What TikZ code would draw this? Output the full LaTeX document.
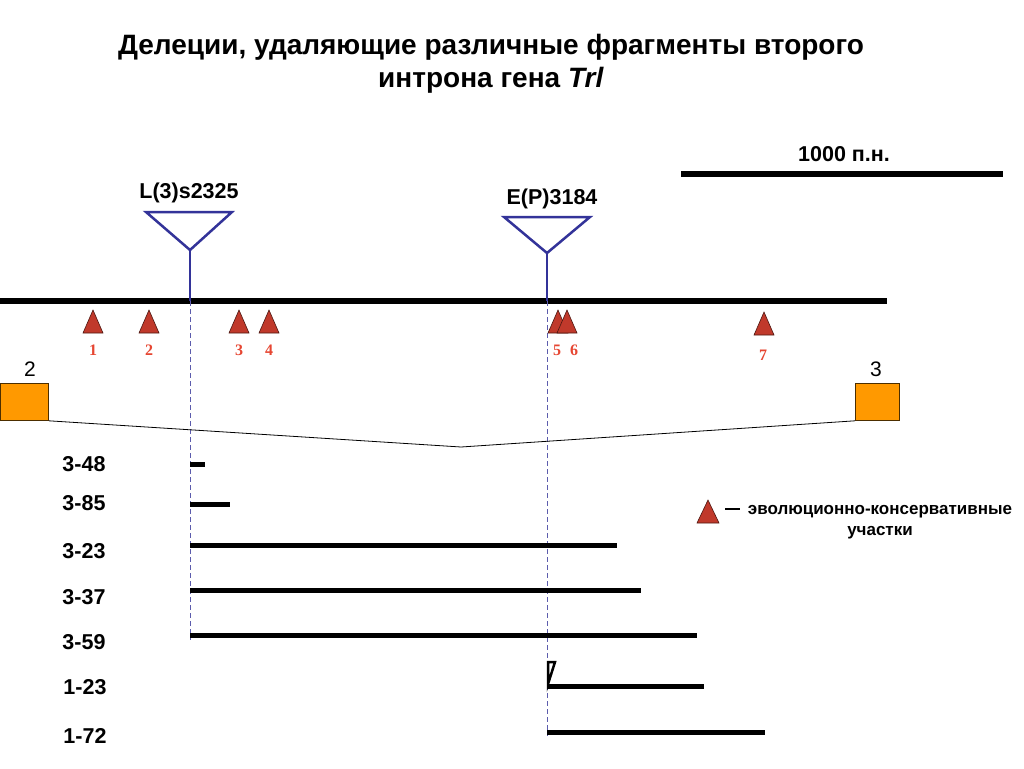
\documentclass[tikz,border=0pt]{standalone}
\usepackage{fontspec}
\setmainfont{Liberation Sans}
\newfontfamily\serifnum{Liberation Serif}
\definecolor{ins}{RGB}{51,51,153}
\definecolor{cons}{RGB}{192,57,43}
\definecolor{exon}{RGB}{255,153,0}
\definecolor{numred}{RGB}{230,70,50}
\begin{document}
\begin{tikzpicture}[x=1pt,y=-1pt,
  lbl/.style={font=\fontsize{21.5}{24}\selectfont\bfseries, inner sep=0pt},
  numlbl/.style={font=\fontsize{16}{18}\selectfont\serifnum\bfseries, text=numred, inner sep=0pt},
  bar/.style={line width=5pt},
  insline/.style={draw=ins, line width=2.5pt},
  guide/.style={draw=ins!80!white, dashed, line width=0.6pt, dash pattern=on 5pt off 3pt},
  exonbox/.style={draw=black!70!exon, fill=exon, line width=0.8pt},
  ctri/.style={draw=black!60!cons, fill=cons, line width=0.6pt}
]
\useasboundingbox (0,0) rectangle (1024,768);
% title
\node[font=\fontsize{28}{33}\selectfont\bfseries, align=center] (title) at (491,64)
  {Делеции, удаляющие различные фрагменты второго\\интрона гена \textit{Trl}};
% scale bar
\coordinate (sbL) at (681,174);
\coordinate (sbR) at (1003,174);
\draw[line width=6pt] (sbL) -- (sbR);
\node[lbl] (sblabel) at (844,154) {1000 п.н.};
% main line
\coordinate (mL) at (0,301);
\coordinate (mR) at (887,301);
\draw[line width=6pt] (mL) -- (mR);
% guides
\coordinate (g1a) at (190,301); \coordinate (g1b) at (190,640);
\coordinate (g2a) at (547,301); \coordinate (g2b) at (547,736);
\draw[guide] (g1a) -- (g1b);
\draw[guide] (g2a) -- (g2b);
% insertion 1
\coordinate (i1) at (190,250);
\draw[insline, line join=miter] (146,212) -- (232,212) -- (i1) -- cycle;
\draw[insline] (i1) -- (190,301);
\node[lbl] (L3) at (189,193) {L(3)s2325};
% insertion 2
\coordinate (i2) at (547,253);
\draw[insline, line join=miter] (504,217) -- (590,217) -- (i2) -- cycle;
\draw[insline] (i2) -- (547,301);
\node[lbl] (EP) at (552,199) {E(P)3184};
% conserved triangles
\foreach \x/\n in {93/1,149/2,239/3,269/4}{
  \draw[ctri] (\x-10,333) -- (\x+10,333) -- (\x,310) -- cycle;
  \node[numlbl] at (\x,350) {\n};
}
\draw[ctri] (548,333) -- (568,333) -- (558,310) -- cycle;
\draw[ctri] (557,333) -- (577,333) -- (567,310) -- cycle;
\node[numlbl] (n5) at (557,350) {5};
\node[numlbl] (n6) at (574,350) {6};
\draw[ctri] (754,335) -- (774,335) -- (764,312) -- cycle;
\node[numlbl] (n7) at (763,355) {7};
% exons
\node[exonbox, minimum width=48pt, minimum height=37pt, inner sep=0pt, anchor=north west] (ex2) at (0,383) {};
\node[exonbox, minimum width=44pt, minimum height=37pt, inner sep=0pt, anchor=north west] (ex3) at (855,383) {};
\node[font=\fontsize{21}{23}\selectfont, inner sep=0pt] (ex2l) at (30,369) {2};
\node[font=\fontsize{21}{23}\selectfont, inner sep=0pt] (ex3l) at (876,369) {3};
\coordinate (splice) at (461,447);
\draw[line width=0.8pt] (ex2.south east) -- (splice) -- (ex3.south west);
% deletions
\foreach \y/\t/\xe/\yb in {464/3-48/205/464, 503/3-85/230/504, 551/3-23/617/545, 597/3-37/641/590, 642/3-59/697/635}{
  \node[lbl] at (84,\y) {\t};
  \draw[bar] (190,\yb) -- (\xe,\yb);
}
\node[lbl] (d123) at (85,687) {1-23};
\node[lbl] (d172) at (85,736) {1-72};
\draw[bar] (547,686) -- (704,686);
\draw[bar] (547,732) -- (765,732);
\draw[line width=2.5pt, line join=miter] (548,662) -- (555,662) -- (548,684) -- cycle;
% legend
\draw[ctri] (697,523) -- (719,523) -- (708,500) -- cycle;
\draw[line width=2pt] (725,509) -- (740,509);
\node[font=\fontsize{17}{21}\selectfont\bfseries, align=center, inner sep=0pt] (leg) at (880,522)
  {эволюционно-консервативные\\участки};
\end{tikzpicture}
\end{document}
